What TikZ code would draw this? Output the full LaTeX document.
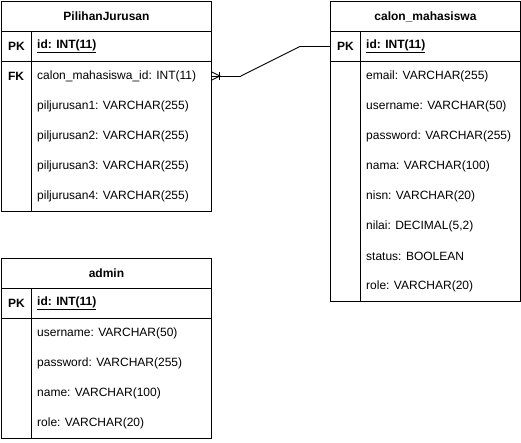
\documentclass[tikz,border=0pt]{standalone}
\usepackage{fontspec}
\setmainfont{Liberation Sans}
\usetikzlibrary{positioning}
\newcommand{\erfont}{\fontsize{12}{14}\selectfont}
\tikzset{
  header/.style={draw,line width=0.9pt,minimum width=#1,minimum height=30pt,
    inner sep=0pt,anchor=north west,font=\erfont\bfseries},
  header/.default=210pt,
  keycell/.style={draw,line width=0.9pt,minimum width=30pt,minimum height=#1,
    inner sep=0pt,anchor=north west,font=\erfont\bfseries},
  fieldcell/.style={draw,line width=0.9pt,minimum width=180pt,minimum height=#1,
    inner sep=0pt,anchor=north west},
  keytext/.style={font=\erfont\bfseries,inner sep=0pt},
  field/.style={anchor=west,inner sep=0pt,font=\erfont},
  link/.style={line width=0.9pt}
}

\begin{document}
\begin{tikzpicture}[x=1pt,y=-1pt]
  \useasboundingbox (0,0) rectangle (521,442);

  % Table 1: PilihanJurusan
  \node[header] (pj) at (1,1) {PilihanJurusan};
  \node[keycell=30pt] (pj-pk) at (1,31) {PK};
  \node[fieldcell=30pt] (pj-idcell) at (31,31) {};
  \node[field,right=6pt of pj-idcell.west] (pj-id) {\underline{\textbf{id: INT(11)}}};
  \node[keycell=150pt] (pj-keys) at (1,61) {};
  \node[fieldcell=150pt] (pj-body) at (31,61) {};
  \node[keytext] (pj-fk) at (16,76) {FK};
  \foreach \txt [count=\i from 0] in {calon\_mahasiswa\_id: INT(11),
      piljurusan1: VARCHAR(255),piljurusan2: VARCHAR(255),
      piljurusan3: VARCHAR(255),piljurusan4: VARCHAR(255)}
    \node[field] (pj-f\i) at (37,76+30*\i) {\txt};

  % Table 2: calon_mahasiswa
  \node[header=190pt] (cm) at (330,1) {calon\_mahasiswa};
  \node[keycell=30pt] (cm-pk) at (330,31) {PK};
  \node[fieldcell=30pt,minimum width=160pt] (cm-idcell) at (360,31) {};
  \node[field,right=6pt of cm-idcell.west] (cm-id) {\underline{\textbf{id: INT(11)}}};
  \node[keycell=240pt] (cm-keys) at (330,61) {};
  \node[fieldcell=240pt,minimum width=160pt] (cm-body) at (360,61) {};
  \foreach \txt [count=\i from 0] in {email: VARCHAR(255),username: VARCHAR(50),
      password: VARCHAR(255),nama: VARCHAR(100),nisn: VARCHAR(20),
      {nilai: DECIMAL(5,2)},status: BOOLEAN,role: VARCHAR(20)}
    \node[field] (cm-f\i) at (366,76+30*\i) {\txt};

  % Table 3: admin
  \node[header] (ad) at (1,258) {admin};
  \node[keycell=30pt] (ad-pk) at (1,288) {PK};
  \node[fieldcell=30pt] (ad-idcell) at (31,288) {};
  \node[field,right=6pt of ad-idcell.west] (ad-id) {\underline{\textbf{id: INT(11)}}};
  \node[keycell=120pt] (ad-keys) at (1,318) {};
  \node[fieldcell=120pt] (ad-body) at (31,318) {};
  \foreach \txt [count=\i from 0] in {username: VARCHAR(50),password: VARCHAR(255),
      name: VARCHAR(100),role: VARCHAR(20)}
    \node[field] (ad-f\i) at (37,333+30*\i) {\txt};

  % relation: FK -> calon_mahasiswa.id (one or many)
  \coordinate (fk-end) at (pj-body.east |- pj-f0);
  \draw[link] (fk-end) -- ++(29,0) coordinate (lnk-a);
  \draw[link] (cm-pk.west) -- ++(-30,0) coordinate (lnk-b);
  \draw[link] (lnk-a) -- (lnk-b);
  \draw[link] (fk-end) ++(0,-4) -- ++(8,4) -- ++(-8,4);
  \draw[link] (fk-end) ++(8,-4) -- ++(0,8);
\end{tikzpicture}
\end{document}
